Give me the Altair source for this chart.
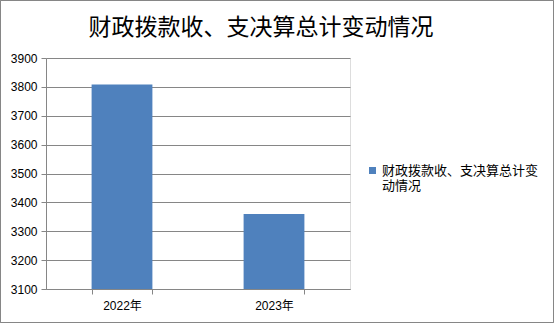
import altair as alt
import pandas as pd

years = ["2022年", "2023年"]
values = [3808, 3360]
series = "财政拨款收、支决算总计变动情况"
title_text = "财政拨款收、支决算总计变动情况"
y_ticks = [3100, 3200, 3300, 3400, 3500, 3600, 3700, 3800, 3900]

df = pd.DataFrame({"year": years, "value": values, "series": [series] * len(years)})

FONT = "Liberation Sans, 'Noto Sans CJK SC', sans-serif"
GRAY = "#868686"

bars = alt.Chart(df).mark_bar(color="#4F81BD", clip=True).encode(
    x=alt.X("year:N", sort=years,
            scale=alt.Scale(paddingInner=0.6, paddingOuter=0.3),
            axis=alt.Axis(title=None, labelAngle=0, tickBand="extent",
                          domainColor=GRAY, tickColor=GRAY, tickSize=5,
                          labelFontSize=12, labelFont=FONT, labelColor="#000",
                          labelPadding=6, grid=False)),
    y=alt.Y("value:Q",
            scale=alt.Scale(domain=[3100, 3900], nice=False, zero=False),
            axis=alt.Axis(title=None, values=y_ticks, format="d",
                          domainColor=GRAY, tickColor=GRAY, tickSize=5,
                          gridColor=GRAY, grid=True,
                          labelFontSize=12, labelFont=FONT, labelColor="#000",
                          labelPadding=4)),
    color=alt.Color("series:N",
                    scale=alt.Scale(range=["#4F81BD"]),
                    legend=alt.Legend(title=None, orient="none",
                                      legendX=320, legendY=106,
                                      symbolType="square", symbolSize=49,
                                      symbolStrokeWidth=0, padding=0,
                                      labelFontSize=13, labelFont=FONT,
                                      labelColor="#000", labelLimit=300,
                                      labelBaseline="middle", labelOffset=3,
                                      labelExpr="[slice(datum.label,0,12), slice(datum.label,12)]")),
)

border = alt.Chart(df).mark_rect(fill=None, stroke=GRAY, strokeWidth=1).encode(
    x=alt.value(-45.5), x2=alt.value(553.5 - 46),
    y=alt.value(-57.5), y2=alt.value(322.5 - 58),
)

chart = alt.layer(bars, border).properties(
    width=304, height=231,
    padding={"left": 46, "top": 58, "right": 205, "bottom": 35},
    autosize=alt.AutoSizeParams(type="none"),
    title=alt.TitleParams(title_text, font="'Noto Sans CJK SC', sans-serif",
                          fontSize=23, fontWeight="normal", color="#000",
                          anchor="middle", dx=63, dy=67, offset=4, baseline="bottom"),
).configure_view(stroke=None).configure(background="white")

chart.save("out.html", embed_options={"renderer": "svg", "actions": False})
